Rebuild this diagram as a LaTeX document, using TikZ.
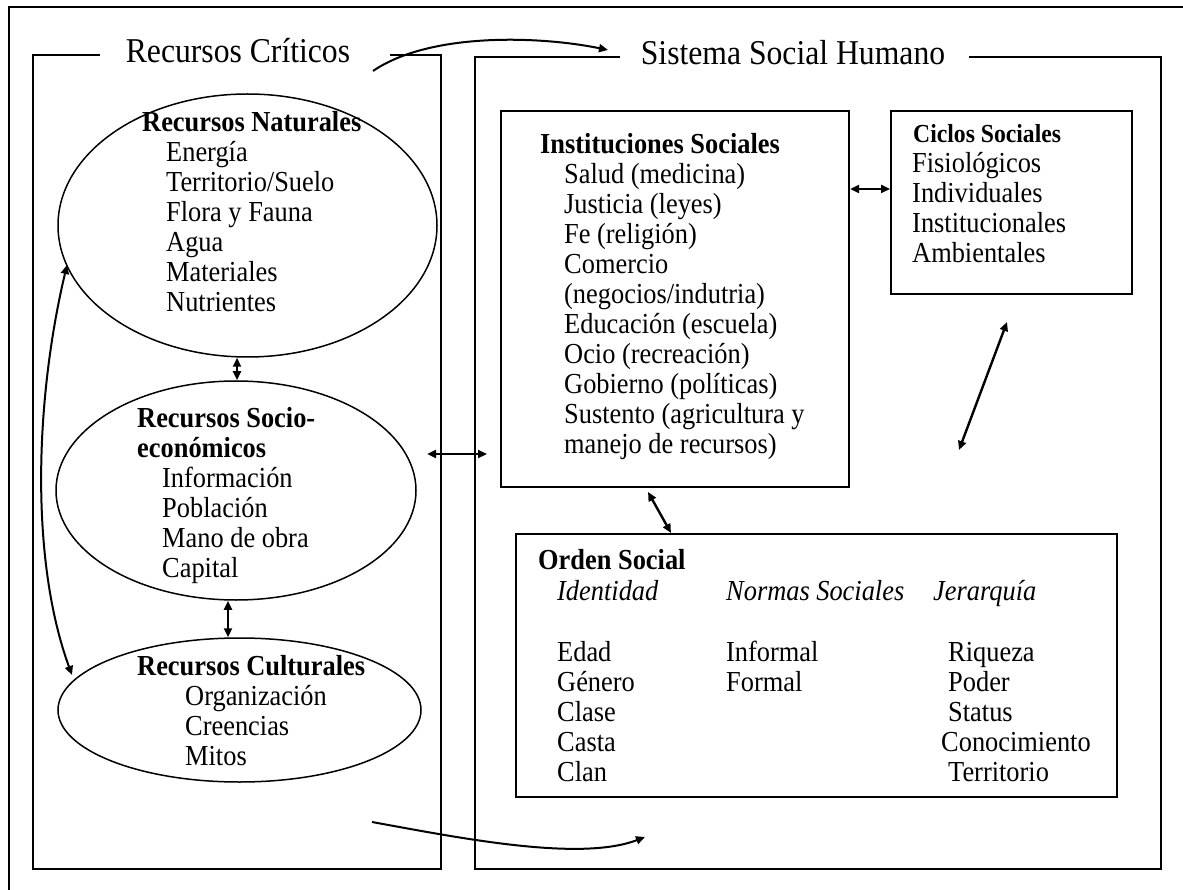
\documentclass[tikz,border=0pt]{standalone}
\usepackage{fontspec}
\setmainfont[FakeStretch=0.91]{Liberation Serif}
\usetikzlibrary{positioning,arrows.meta,shapes.geometric}

\begin{document}
\begin{tikzpicture}[x=1pt, y=-1pt, >={Triangle[length=9pt,width=8pt]},
  frame/.style={line width=2pt},
  box/.style={draw, line width=2pt, inner sep=0pt},
  elli/.style={draw, ellipse, line width=1.5pt, inner sep=0pt},
  ttl/.style={anchor=base, inner sep=0pt, font=\fontsize{34.8}{36}\selectfont},
  txt/.style={anchor=base west, align=left, inner sep=0pt, font=\fontsize{29}{30}\selectfont},
  link/.style={<->, line width=2.4pt},
  flow/.style={->, line width=2pt}]
  \useasboundingbox (0,0) rectangle (1183,890);
  \clip (0,0) rectangle (1183,890);
  % marco exterior
  \draw[frame] (9,7) rectangle (1200,910);

  % Recursos Criticos (texto anclado en la ultima linea)
  \node[ttl] (crit) at (238,63) {Recursos Críticos};
  \draw[frame] (100,55) -- (33,55) -- (33,869) -- (441,869) -- (441,55) -- (390,55);

  \node[elli, minimum width=379pt, minimum height=263pt] (nat) at (247.5,225.5) {};
  \node[elli, minimum width=360pt, minimum height=219pt] (soc) at (236,490.5) {};
  \node[elli, minimum width=363pt, minimum height=144pt] (cul) at (239.5,710) {};

  \node[txt] (natT) at (142,312) {\textbf{Recursos Naturales}\\
    \hspace*{24pt}Energía\\ \hspace*{24pt}Territorio/Suelo\\ \hspace*{24pt}Flora y Fauna\\
    \hspace*{24pt}Agua\\ \hspace*{24pt}Materiales\\ \hspace*{24pt}Nutrientes};
  \node[txt] (socT) at (137,577) {\textbf{Recursos Socio-}\\ \textbf{económicos}\\
    \hspace*{25pt}Información\\ \hspace*{25pt}Población\\ \hspace*{25pt}Mano de obra\\
    \hspace*{25pt}Capital};
  \node[txt] (culT) at (137,765) {\textbf{Recursos Culturales}\\
    \hspace*{48pt}Organización\\ \hspace*{48pt}Creencias\\ \hspace*{48pt}Mitos};

  % Sistema Social Humano
  \node[ttl] (sist) at (793,65) {Sistema Social Humano};
  \draw[frame] (620,57) -- (475,57) -- (475,869) -- (1161,869) -- (1161,57) -- (969,57);

  \node[box, minimum width=348pt, minimum height=376pt] (inst) at (675,299) {};
  \node[box, minimum width=241pt, minimum height=183pt] (cyc) at (1011.5,202.5) {};
  \node[box, minimum width=601pt, minimum height=263pt] (ord) at (816.5,665.5) {};

  \node[txt] (instT) at (540,453) {\textbf{Instituciones Sociales}\\
    \hspace*{24pt}Salud (medicina)\\ \hspace*{24pt}Justicia (leyes)\\
    \hspace*{24pt}Fe (religión)\\ \hspace*{24pt}Comercio\\
    \hspace*{24pt}(negocios/indutria)\\ \hspace*{24pt}Educación (escuela)\\
    \hspace*{24pt}Ocio (recreación)\\ \hspace*{24pt}Gobierno (políticas)\\
    \hspace*{24pt}Sustento (agricultura y\\ \hspace*{24pt}manejo de recursos)};
  \node[txt, font=\bfseries\fontsize{26}{28}\selectfont] (cycH) at (913,143) {Ciclos Sociales};
  \node[txt] (cycT) at (912,263) {Fisiológicos\\ Individuales\\ Institucionales\\ Ambientales};

  \node[txt] (ordH) at (538,569) {\textbf{Orden Social}};
  \node[txt] (ident) at (557,781) {\textit{Identidad}\\[31pt]Edad\\ Género\\ Clase\\ Casta\\ Clan};
  \node[txt] (norm) at (726,691) {\textit{Normas Sociales}\\[31pt]Informal\\ Formal};
  \node[txt] (jer) at (933,781) {\textit{Jerarquía}\\[31pt]\hspace*{15pt}Riqueza\\
    \hspace*{15pt}Poder\\ \hspace*{15pt}Status\\ \hspace*{8pt}Conocimiento\\
    \hspace*{15pt}Territorio};

  % flechas
  \coordinate (ns) at (237,0);
  \coordinate (sc) at (228,0);
  \coordinate (ic) at (0,189);
  \coordinate (natL) at (67,265);
  \coordinate (culL) at (72,675);
  \coordinate (socR) at (427,454);
  \coordinate (instL) at (487,454);
  \coordinate (instB) at (648,492);
  \coordinate (io) at (671,0);
  \coordinate (dgA) at (959,450);
  \coordinate (dgB) at (1007,322);
  \coordinate (critR) at (373,71);
  \coordinate (sistL) at (608,50);
  \coordinate (botA) at (372,822);
  \coordinate (botB) at (645,837);

  \draw[link] (ns |- nat.south) -- (ns |- soc.north);
  \draw[link] (sc |- soc.south) -- (sc |- cul.north);
  \draw[link] (ic -| inst.east) -- (ic -| cyc.west);
  \draw[link] (instB) -- (io |- ord.north);
  \draw[link] (socR) -- (instL);
  \draw[link] (dgA) -- (dgB);
  \draw[<->, line width=2pt] (natL) .. controls (35,400) and (30,560) .. (culL);
  \draw[flow] (critR) .. controls (430,32) and (540,36) .. (sistL);
  \draw[flow] (botA) .. controls (460,838) and (580,862) .. (botB);
\end{tikzpicture}
\end{document}
